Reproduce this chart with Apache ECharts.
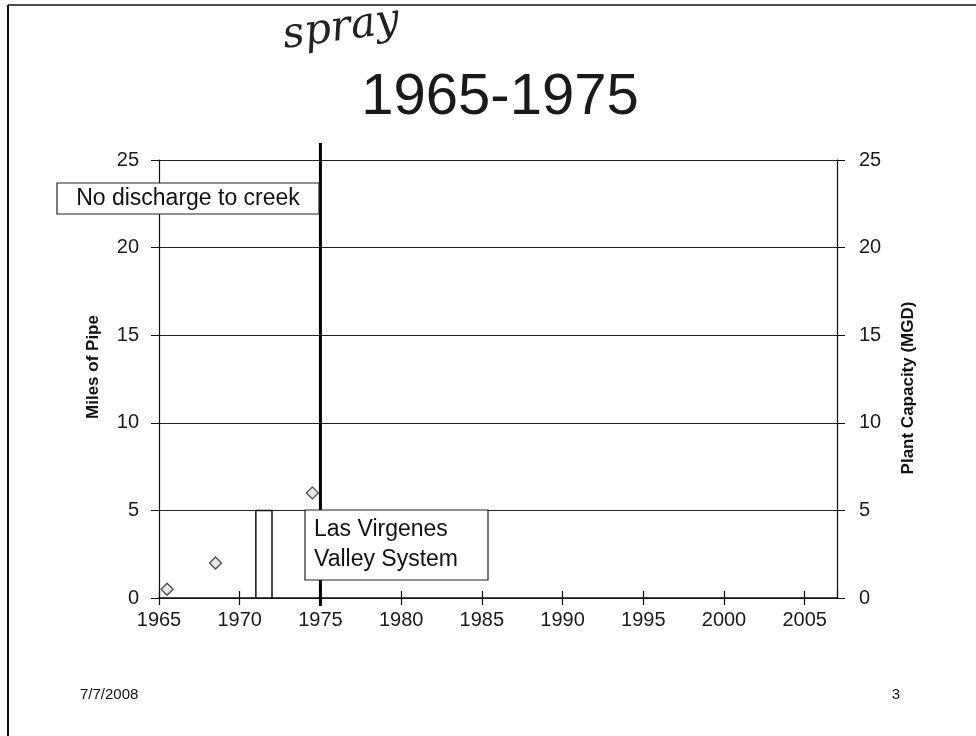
<!DOCTYPE html>
<html>
<head>
<meta charset="utf-8">
<script src="https://cdn.jsdelivr.net/npm/echarts@6/dist/echarts.min.js"></script>
<style>
    html, body { margin: 0; padding: 0; background: #ffffff; }
    #chart { width: 976px; height: 736px; }
</style>
</head>
<body>
<div id="chart"></div>
<script>
    // miles of pipe (left axis)
    const pipeYears = [1965.5, 1968.5, 1974.5];
    const pipeMiles = [0.5, 2.0, 6.0];

    // plant capacity (right axis), drawn as a box from start to end year
    const plantStart = [1971];
    const plantEnd = [1972];
    const plantMgd = [5];

    // milestone line
    const eventYear = [1975];

    const xMin = 1965, xMax = 2007, xStep = 5;
    const yMin = 0, yMax = 25, yStep = 5;

    const font = 'Liberation Sans, Arial, sans-serif';

    const chart = echarts.init(document.getElementById('chart'));

    const option = {
        backgroundColor: '#ffffff',
        animation: false,
        grid: {
            left: 159,
            right: 139,
            top: 160,
            bottom: 138
        },
        xAxis: [
            {
                type: 'value',
                position: 'bottom',
                min: xMin,
                max: xMax,
                interval: xStep,
                axisLine: { lineStyle: { color: '#111', width: 1.5 } },
                axisTick: { length: 7, lineStyle: { color: '#111', width: 1.2 } },
                axisLabel: {
                    color: '#1a1a1a',
                    fontFamily: font,
                    fontSize: 20,
                    margin: 12,
                    showMaxLabel: false,
                    formatter: v => (v % 5 === 0 ? String(v) : '')
                },
                splitLine: { show: false }
            },
            {
                // inner half of the crossing ticks
                type: 'value',
                position: 'bottom',
                min: xMin,
                max: xMax,
                interval: xStep,
                axisLine: { show: false },
                axisTick: { inside: true, length: 7, lineStyle: { color: '#111', width: 1.2 } },
                axisLabel: { show: false },
                splitLine: { show: false }
            }
        ],
        yAxis: [
            {
                type: 'value',
                position: 'left',
                min: yMin,
                max: yMax,
                interval: yStep,
                axisLine: { show: true, lineStyle: { color: '#111', width: 1.2 } },
                axisTick: { show: true, length: 8, lineStyle: { color: '#111' } },
                axisLabel: { color: '#1a1a1a', fontFamily: font, fontSize: 20, margin: 20 },
                splitLine: { lineStyle: { color: '#222', width: 1 } }
            },
            {
                type: 'value',
                position: 'right',
                min: yMin,
                max: yMax,
                interval: yStep,
                axisLine: { show: true, lineStyle: { color: '#111', width: 1.2 } },
                axisTick: { show: true, length: 8, lineStyle: { color: '#111' } },
                axisLabel: { color: '#1a1a1a', fontFamily: font, fontSize: 20, margin: 22 },
                splitLine: { show: false }
            }
        ],
        series: [
            {
                name: 'Plant Capacity',
                type: 'custom',
                xAxisIndex: 0,
                yAxisIndex: 1,
                data: plantStart.map((s, i) => [s, plantEnd[i], plantMgd[i]]),
                renderItem: (params, api) => {
                    const tl = api.coord([api.value(0), api.value(2)]);
                    const br = api.coord([api.value(1), 0]);
                    return {
                        type: 'rect',
                        shape: { x: tl[0], y: tl[1], width: br[0] - tl[0], height: br[1] - tl[1] },
                        style: { fill: '#ffffff', stroke: '#111', lineWidth: 1.5 }
                    };
                },
                z: 3
            },
            {
                name: 'Miles of Pipe',
                type: 'scatter',
                xAxisIndex: 0,
                yAxisIndex: 0,
                symbol: 'diamond',
                symbolSize: 12,
                itemStyle: { color: '#e2e2e2', borderColor: '#222', borderWidth: 1.3 },
                data: pipeYears.map((x, i) => [x, pipeMiles[i]]),
                z: 4
            },
            {
                name: 'Milestone',
                type: 'custom',
                xAxisIndex: 0,
                yAxisIndex: 0,
                clip: false,
                data: eventYear.map(y => [y]),
                renderItem: (params, api) => {
                    const top = api.coord([api.value(0), yMax]);
                    const bot = api.coord([api.value(0), yMin]);
                    return {
                        type: 'line',
                        shape: { x1: top[0], y1: top[1] - 17, x2: bot[0], y2: bot[1] + 8 },
                        style: { stroke: '#000', lineWidth: 3 }
                    };
                },
                z: 6
            }
        ],
        graphic: [
            // slide frame
            { type: 'line', shape: { x1: 8, y1: 5, x2: 976, y2: 5 }, style: { stroke: '#111', lineWidth: 1.5 } },
            { type: 'line', shape: { x1: 8, y1: 5, x2: 8, y2: 736 }, style: { stroke: '#111', lineWidth: 2 } },
            {
                type: 'text', x: 286, y: 58, rotation: 0.14,
                style: { text: 'spray', font: 'italic 42px DejaVu Serif, serif', fill: '#222', verticalAlign: 'bottom' }
            },
            {
                type: 'text', x: 500, y: 98,
                style: { text: '1965-1975', font: '58px ' + font, fill: '#1a1a1a', align: 'center', verticalAlign: 'middle' }
            },
            {
                type: 'text', x: 93, y: 367, rotation: Math.PI / 2,
                style: { text: 'Miles of Pipe', font: 'bold 17px ' + font, fill: '#111', align: 'center', verticalAlign: 'middle' }
            },
            {
                type: 'text', x: 908, y: 388, rotation: Math.PI / 2,
                style: { text: 'Plant Capacity (MGD)', font: 'bold 17px ' + font, fill: '#111', align: 'center', verticalAlign: 'middle' }
            },
            {
                type: 'rect', z: 100,
                shape: { x: 57, y: 183, width: 262, height: 31 },
                style: { fill: '#ffffff', stroke: '#222', lineWidth: 1.2 }
            },
            {
                type: 'text', z: 101, x: 188, y: 199,
                style: { text: 'No discharge to creek', font: '23px ' + font, fill: '#111', align: 'center', verticalAlign: 'middle' }
            },
            {
                type: 'rect', z: 100,
                shape: { x: 305, y: 510, width: 183, height: 70 },
                style: { fill: '#ffffff', stroke: '#222', lineWidth: 1.2 }
            },
            {
                type: 'text', z: 101, x: 314, y: 545,
                style: { text: 'Las Virgenes\nValley System', font: '23px ' + font, lineHeight: 30, fill: '#111', align: 'left', verticalAlign: 'middle' }
            },
            {
                type: 'text', x: 80, y: 695,
                style: { text: '7/7/2008', font: '15px ' + font, fill: '#111', verticalAlign: 'middle' }
            },
            {
                type: 'text', x: 896, y: 695,
                style: { text: '3', font: '15px ' + font, fill: '#111', align: 'center', verticalAlign: 'middle' }
            }
        ]
    };

    chart.setOption(option);
</script>
</body>
</html>
